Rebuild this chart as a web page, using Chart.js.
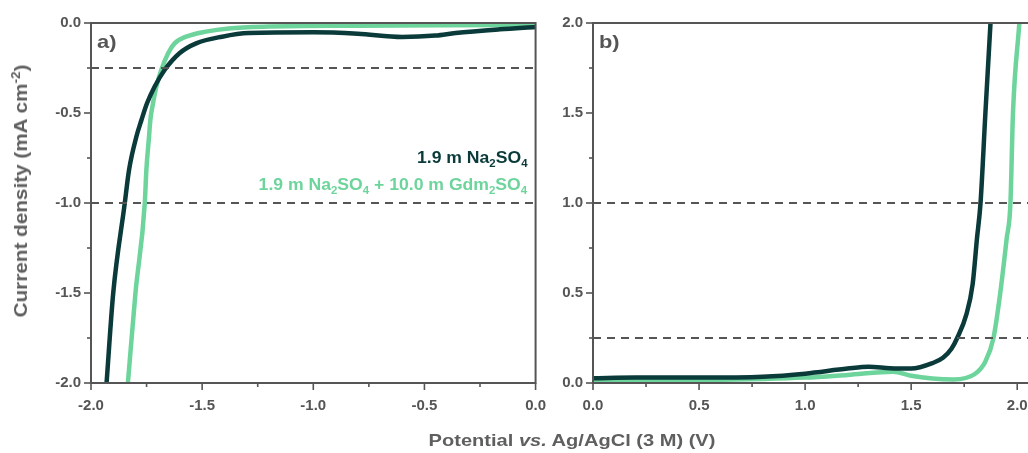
<!DOCTYPE html>
<html>
<head>
<meta charset="utf-8">
<script src="https://cdn.jsdelivr.net/npm/chart.js@4"></script>
<style>
  html, body { margin: 0; padding: 0; background: #fff; width: 1028px; height: 453px; overflow: hidden; }
  body { position: relative; font-family: "Liberation Sans", Arial, sans-serif; }
  .box { position: absolute; top: 0; height: 453px; }
  .lbl { position: absolute; font-weight: bold; white-space: nowrap; line-height: 20px; }
  sub { font-size: 65%; vertical-align: -0.35em; line-height: 0; }
  sup { font-size: 65%; vertical-align: 0.6em; line-height: 0; }
</style>
</head>
<body>
<div class="box" style="left:0;width:560px"><canvas id="chartA"></canvas></div>
<div class="box" style="left:502px;width:540px"><canvas id="chartB"></canvas></div>

<div class="lbl" style="left:97px;top:32px;font-size:19px;color:#555;transform-origin:left center;transform:scaleX(1.15)">a)</div>
<div class="lbl" style="left:599px;top:32px;font-size:19px;color:#555;transform-origin:left center;transform:scaleX(1.15)">b)</div>

<div class="lbl" style="right:501px;top:148px;font-size:16px;color:#0a3a3a;transform-origin:right center;transform:scaleX(1.1)">1.9 m Na<sub>2</sub>SO<sub>4</sub></div>
<div class="lbl" style="right:501px;top:175px;font-size:16px;color:#6dd49c;transform-origin:right center;transform:scaleX(1.1)">1.9 m Na<sub>2</sub>SO<sub>4</sub> + 10.0 m Gdm<sub>2</sub>SO<sub>4</sub></div>

<div class="lbl" style="left:21px;top:191px;font-size:19px;color:#5f5f5f;transform:translate(-50%,-50%) rotate(-90deg) scaleX(1.09)">Current density (mA cm<sup>-2</sup>)</div>
<div class="lbl" style="left:572px;top:441px;font-size:17px;color:#5f5f5f;transform:translate(-50%,-50%) scaleX(1.18)">Potential <i>vs.</i> Ag/AgCl (3 M) (V)</div>

<script>
// panel a) cathodic scan
const potA_Na = [-1.93, -1.90, -1.848, -1.829, -1.796, -1.773, -1.748, -1.714, -1.669, -1.602, -1.527, -1.41, -1.29, -1.0, -0.8, -0.6, -0.45, -0.36, -0.16, 0.0];
const curA_Na = [-2.0, -1.5, -1.0, -0.817, -0.632, -0.539, -0.446, -0.354, -0.261, -0.168, -0.113, -0.076, -0.056, -0.052, -0.06, -0.078, -0.07, -0.056, -0.035, -0.022];
const potA_Gdm = [-1.834, -1.80, -1.758, -1.751, -1.739, -1.733, -1.721, -1.706, -1.684, -1.653, -1.624, -1.572, -1.483, -1.38, -1.2, -0.8, -0.4, 0.0];
const curA_Gdm = [-2.0, -1.5, -1.0, -0.817, -0.632, -0.539, -0.446, -0.354, -0.261, -0.168, -0.113, -0.076, -0.048, -0.03, -0.02, -0.015, -0.012, -0.01];

// panel b) anodic scan
const potB_Na = [0.0, 0.2, 0.5, 0.8, 1.0, 1.2, 1.3, 1.4, 1.5, 1.6, 1.65, 1.69, 1.717, 1.76, 1.79, 1.81, 1.827, 1.85, 1.874];
const curB_Na = [0.027, 0.03, 0.03, 0.035, 0.052, 0.08, 0.09, 0.082, 0.08, 0.11, 0.14, 0.19, 0.25, 0.38, 0.55, 0.8, 1.0, 1.5, 2.0];
const potB_Gdm = [0.0, 0.5, 1.0, 1.2, 1.416, 1.5, 1.6, 1.7, 1.8, 1.85, 1.888, 1.92, 1.95, 1.968, 1.98, 2.01];
const curB_Gdm = [0.01, 0.015, 0.03, 0.045, 0.063, 0.04, 0.025, 0.02, 0.05, 0.12, 0.25, 0.5, 0.8, 1.0, 1.5, 2.0];

const refLinesA = [-0.25, -1.0];
const refLinesB = [1.0, 0.25];

const xRangeA = [-2.0, 0.0];
const yRangeA = [-2.0, 0.0];
const xRangeB = [0.0, 2.06];
const yRangeB = [0.0, 2.0];

const dark = '#0a3a3a';
const green = '#6dd49c';
const axisGrey = '#555';

function toPoints(xs, ys) {
  return xs.map((x, i) => ({ x: x, y: ys[i] }));
}

function seriesSet(xs, ys, color) {
  return {
    data: toPoints(xs, ys),
    borderColor: color,
    borderWidth: 4.5,
    pointRadius: 0,
    cubicInterpolationMode: 'monotone',
    fill: false
  };
}

function refSet(v, xr) {
  return {
    data: [{ x: xr[0], y: v }, { x: xr[1], y: v }],
    borderColor: axisGrey,
    borderWidth: 1.8,
    borderDash: [8, 6],
    pointRadius: 0,
    fill: false
  };
}

// box frame plus major/minor ticks drawn from the scales
const frameTicks = {
  id: 'frameTicks',
  afterDraw(chart) {
    const { ctx, chartArea: a, scales } = chart;
    ctx.save();
    ctx.strokeStyle = axisGrey;
    ctx.lineWidth = 2;
    ctx.strokeRect(a.left, a.top, a.right - a.left, a.bottom - a.top);
    ctx.lineWidth = 1.6;
    const step = 0.25;
    const xs = scales.x, ys = scales.y;
    for (let v = Math.ceil(xs.min / step) * step; v <= xs.max + 1e-9; v += step) {
      const p = xs.getPixelForValue(v);
      const major = Math.abs(v / 0.5 - Math.round(v / 0.5)) < 1e-6;
      ctx.beginPath();
      ctx.moveTo(p, a.bottom);
      ctx.lineTo(p, a.bottom + (major ? 7 : 4));
      ctx.stroke();
    }
    for (let v = Math.ceil(ys.min / step) * step; v <= ys.max + 1e-9; v += step) {
      const p = ys.getPixelForValue(v);
      const major = Math.abs(v / 0.5 - Math.round(v / 0.5)) < 1e-6;
      ctx.beginPath();
      ctx.moveTo(a.left, p);
      ctx.lineTo(a.left - (major ? 7 : 4), p);
      ctx.stroke();
    }
    ctx.restore();
  }
};

function makeChart(id, datasets, xr, yr, padRight) {
  return new Chart(document.getElementById(id), {
    type: 'line',
    data: { datasets: datasets },
    plugins: [frameTicks],
    options: {
      responsive: true,
      maintainAspectRatio: false,
      animation: { duration: 0 },
      layout: { padding: { top: 23, right: padRight, left: 0, bottom: 0 } },
      plugins: { legend: { display: false }, tooltip: { enabled: false } },
      scales: {
        x: {
          type: 'linear',
          min: xr[0],
          max: xr[1],
          grid: { display: false, drawTicks: false },
          border: { display: false },
          ticks: {
            stepSize: 0.5,
            includeBounds: false,
            padding: 14,
            maxRotation: 0,
            color: axisGrey,
            font: { family: 'Liberation Sans', size: 15, weight: 'bold' },
            callback: v => v.toFixed(1)
          },
          afterFit: s => { s.height = 70; }
        },
        y: {
          min: yr[0],
          max: yr[1],
          grid: { display: false, drawTicks: false },
          border: { display: false },
          ticks: {
            stepSize: 0.5,
            padding: 10,
            color: axisGrey,
            font: { family: 'Liberation Sans', size: 15, weight: 'bold' },
            callback: v => v.toFixed(1)
          },
          afterFit: s => { s.width = 91; }
        }
      }
    }
  });
}

makeChart('chartA', [
  ...refLinesA.map(v => refSet(v, xRangeA)),
  seriesSet(potA_Na, curA_Na, dark),
  seriesSet(potA_Gdm, curA_Gdm, green)
], xRangeA, yRangeA, 23);

makeChart('chartB', [
  ...refLinesB.map(v => refSet(v, xRangeB)),
  seriesSet(potB_Na, curB_Na, dark),
  seriesSet(potB_Gdm, curB_Gdm, green)
], xRangeB, yRangeB, 12);
</script>
</body>
</html>
